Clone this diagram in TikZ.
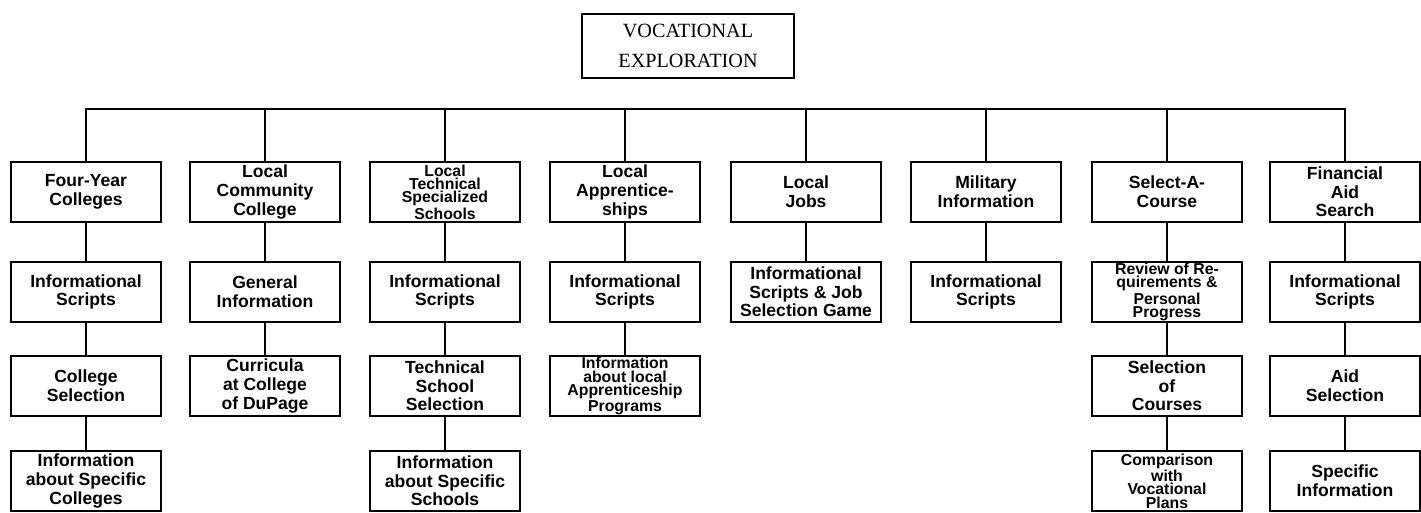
\documentclass[tikz,border=0pt]{standalone}
\usepackage{fontspec}
\setmainfont{Liberation Sans}
\newfontfamily\titlefont{Liberation Serif}
\begin{document}
\begin{tikzpicture}[x=0.02cm,y=-0.02cm,
  box/.style={draw,line width=1.6pt,minimum width=3cm,minimum height=1.2cm,inner sep=0.5pt,align=center,font=\bfseries\fontsize{10}{10.6}\selectfont},
  tight/.style={font=\bfseries\fontsize{9}{7.6}\selectfont,inner sep=0pt},
  link/.style={line width=1.6pt}]
\useasboundingbox (0,0) rectangle (1421,512);

\node[draw,line width=1.6pt,minimum width=4.24cm,minimum height=1.28cm,align=center,font=\titlefont\fontsize{11.5}{17}\selectfont](voc) at (688,46){VOCATIONAL\\EXPLORATION};

\node[box](four1) at (86,192){Four-Year\\Colleges};
\node[box](four2) at (86,292){Informational\\Scripts};
\node[box](four3) at (86,386){College\\Selection};
\node[box](four4) at (86,481){Information\\about Specific\\Colleges};

\node[box](comm1) at (265,192){Local\\Community\\College};
\node[box](comm2) at (265,292){General\\Information};
\node[box](comm3) at (265,386){Curricula\\at College\\of DuPage};

\node[box,tight](tech1) at (445,192){Local\\Technical\\Specialized\\Schools};
\node[box](tech2) at (445,292){Informational\\Scripts};
\node[box](tech3) at (445,386){Technical\\School\\Selection};
\node[box](tech4) at (445,481){Information\\about Specific\\Schools};

\node[box](appr1) at (625,192){Local\\Apprentice-\\ships};
\node[box](appr2) at (625,292){Informational\\Scripts};
\node[box,tight](appr3) at (625,386){Information\\about local\\Apprenticeship\\Programs};

\node[box](jobs1) at (806,192){Local\\Jobs};
\node[box](jobs2) at (806,292){Informational\\Scripts \& Job\\Selection Game};

\node[box](mil1) at (986,192){Military\\Information};
\node[box](mil2) at (986,292){Informational\\Scripts};

\node[box](sel1) at (1167,192){Select-A-\\Course};
\node[box,tight](sel2) at (1167,292){Review of Re-\\quirements \&\\Personal\\Progress};
\node[box](sel3) at (1167,386){Selection\\of\\Courses};
\node[box,tight](sel4) at (1167,481){Comparison\\with\\Vocational\\Plans};

\node[box](aid1) at (1345,192){Financial\\Aid\\Search};
\node[box](aid2) at (1345,292){Informational\\Scripts};
\node[box](aid3) at (1345,386){Aid\\Selection};
\node[box](aid4) at (1345,481){Specific\\Information};

\coordinate(busL) at (86,109);
\coordinate(busR) at (1345,109);
\draw [link](four1)--(busL)--(busR)--(aid1);
\draw [link](comm1)--(comm1|-busL);
\draw [link](tech1)--(tech1|-busL);
\draw [link](appr1)--(appr1|-busL);
\draw [link](jobs1)--(jobs1|-busL);
\draw [link](mil1)--(mil1|-busL);
\draw [link](sel1)--(sel1|-busL);

\draw [link](four1)--(four2);
\draw [link](four2)--(four3);
\draw [link](four3)--(four4);
\draw [link](comm1)--(comm2);
\draw [link](comm2)--(comm3);
\draw [link](tech1)--(tech2);
\draw [link](tech2)--(tech3);
\draw [link](tech3)--(tech4);
\draw [link](appr1)--(appr2);
\draw [link](appr2)--(appr3);
\draw [link](jobs1)--(jobs2);
\draw [link](mil1)--(mil2);
\draw [link](sel1)--(sel2);
\draw [link](sel2)--(sel3);
\draw [link](sel3)--(sel4);
\draw [link](aid1)--(aid2);
\draw [link](aid2)--(aid3);
\draw [link](aid3)--(aid4);
\end{tikzpicture}
\end{document}
